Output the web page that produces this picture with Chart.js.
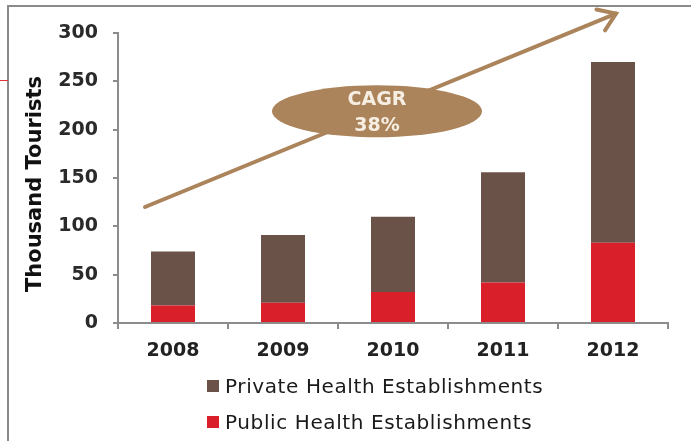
<!DOCTYPE html>
<html>
<head>
<meta charset="utf-8">
<script src="https://cdn.jsdelivr.net/npm/chart.js@4.4.1/dist/chart.umd.min.js"></script>
<style>
  body { margin: 0; background: #fff; }
  #wrap { position: relative; width: 691px; height: 441px; }
  #legend { position: absolute; left: 207px; top: 368px; font: 20px "DejaVu Sans", Verdana, sans-serif; color: #1a1a1a; letter-spacing: 0.6px; }
  #legend .item { display: flex; align-items: center; height: 36px; }
  #legend .box { width: 12px; height: 12px; margin-right: 6px; }
</style>
</head>
<body>
<div id="wrap">
  <canvas id="chart"></canvas>
  <div id="legend"></div>
</div>
<script>
// Medical tourists by establishment type (thousands)
const years = ['2008', '2009', '2010', '2011', '2012'];
const publicTourists = [18, 21, 32, 42, 83];
const privateTourists = [56, 70, 78, 114, 187];
const yTicks = [0, 50, 100, 150, 200, 250, 300];
const yTitle = 'Thousand Tourists';
const cagrLabel = ['CAGR', '38%'];

const brown = '#6b5249';
const red = '#d9202a';
const tan = '#ab845b';
const axisGrey = '#8c8c8c';
const fontFamily = '"DejaVu Sans", Verdana, sans-serif';

// frame lines, axis title, growth arrow and the CAGR bubble
const decorations = {
    id: 'decorations',
    beforeDraw(chart) {
        const ctx = chart.ctx;
        ctx.save();
        ctx.strokeStyle = '#8a8a8a';
        ctx.lineWidth = 2;
        ctx.beginPath();
        ctx.moveTo(8, 441);
        ctx.lineTo(8, 6);
        ctx.lineTo(691, 6);
        ctx.stroke();
        ctx.strokeStyle = '#e0333a';
        ctx.lineWidth = 1;
        ctx.beginPath();
        ctx.moveTo(0, 80.5);
        ctx.lineTo(8, 80.5);
        ctx.stroke();

        // rotated y title, centred a little below the plot middle
        const y = chart.scales.y;
        ctx.translate(36, (y.top + y.bottom) / 2 + 6);
        ctx.rotate(-Math.PI / 2);
        ctx.fillStyle = '#111';
        ctx.font = 'bold 21px ' + fontFamily;
        ctx.textAlign = 'center';
        ctx.textBaseline = 'middle';
        ctx.fillText(yTitle, 0, 0);
        ctx.restore();
    },
    afterDatasetsDraw(chart) {
        const { ctx, scales: { x, y } } = chart;
        const x0 = x.left + 27, y0 = y.getPixelForValue(120);
        const x1 = x.right - 52, y1 = y.getPixelForValue(320);
        ctx.save();
        ctx.strokeStyle = tan;
        ctx.lineWidth = 4;
        ctx.lineCap = 'round';
        ctx.beginPath();
        ctx.moveTo(x0, y0);
        ctx.lineTo(x1, y1);
        ctx.stroke();

        const ang = Math.atan2(y0 - y1, x0 - x1);
        const arm = 20;
        ctx.beginPath();
        ctx.moveTo(x1 + arm * Math.cos(ang - 0.6), y1 + arm * Math.sin(ang - 0.6));
        ctx.lineTo(x1, y1);
        ctx.lineTo(x1 + arm * Math.cos(ang + 0.6), y1 + arm * Math.sin(ang + 0.6));
        ctx.stroke();

        // bubble sits on the arrow between 2009 and 2010
        const cx = (x.getPixelForValue(1) + x.getPixelForValue(2)) / 2 + 39;
        const cy = y.getPixelForValue(219);
        ctx.fillStyle = tan;
        ctx.beginPath();
        ctx.ellipse(cx, cy, 105, 26, 0, 0, Math.PI * 2);
        ctx.fill();

        ctx.fillStyle = '#f6eee2';
        ctx.font = 'bold 19px ' + fontFamily;
        ctx.textAlign = 'center';
        ctx.textBaseline = 'middle';
        ctx.fillText(cagrLabel[0], cx, cy - 11);
        ctx.fillText(cagrLabel[1], cx, cy + 15);
        ctx.restore();
    }
};

const tickFont = { family: fontFamily, size: 19, weight: 'bold' };

const chart = new Chart(document.getElementById('chart'), {
    type: 'bar',
    data: {
        labels: years,
        datasets: [
            { label: 'Public Health Establishments', data: publicTourists, backgroundColor: red },
            { label: 'Private Health Establishments', data: privateTourists, backgroundColor: brown }
        ]
    },
    options: {
        responsive: true,
        maintainAspectRatio: false,
        animation: false,
        layout: { padding: { top: 33, right: 23, left: 0, bottom: 0 } },
        datasets: { bar: { categoryPercentage: 0.8, barPercentage: 0.5 } },
        plugins: { legend: { display: false }, tooltip: { enabled: false } },
        scales: {
            x: {
                stacked: true,
                afterFit: s => { s.height = 118; },
                border: { color: axisGrey, width: 2 },
                grid: { drawOnChartArea: false, tickLength: 6, color: axisGrey, lineWidth: 2, offset: true },
                ticks: { color: '#222', font: tickFont, padding: 11 }
            },
            y: {
                stacked: true,
                min: 0,
                max: 300,
                afterFit: s => { s.width = 118; },
                afterBuildTicks: s => { s.ticks = yTicks.map(v => ({ value: v })); },
                border: { color: axisGrey, width: 2 },
                grid: { drawOnChartArea: false, tickLength: 5, color: axisGrey, lineWidth: 2 },
                ticks: { color: '#2a2a2a', font: tickFont, padding: 15 }
            }
        }
    },
    plugins: [decorations]
});

// legend lists the top segment first
const legendEl = document.getElementById('legend');
chart.data.datasets.slice().reverse().forEach(ds => {
    const item = document.createElement('div');
    item.className = 'item';
    const box = document.createElement('span');
    box.className = 'box';
    box.style.background = ds.backgroundColor;
    const txt = document.createElement('span');
    txt.textContent = ds.label;
    item.appendChild(box);
    item.appendChild(txt);
    legendEl.appendChild(item);
});
</script>
</body>
</html>
